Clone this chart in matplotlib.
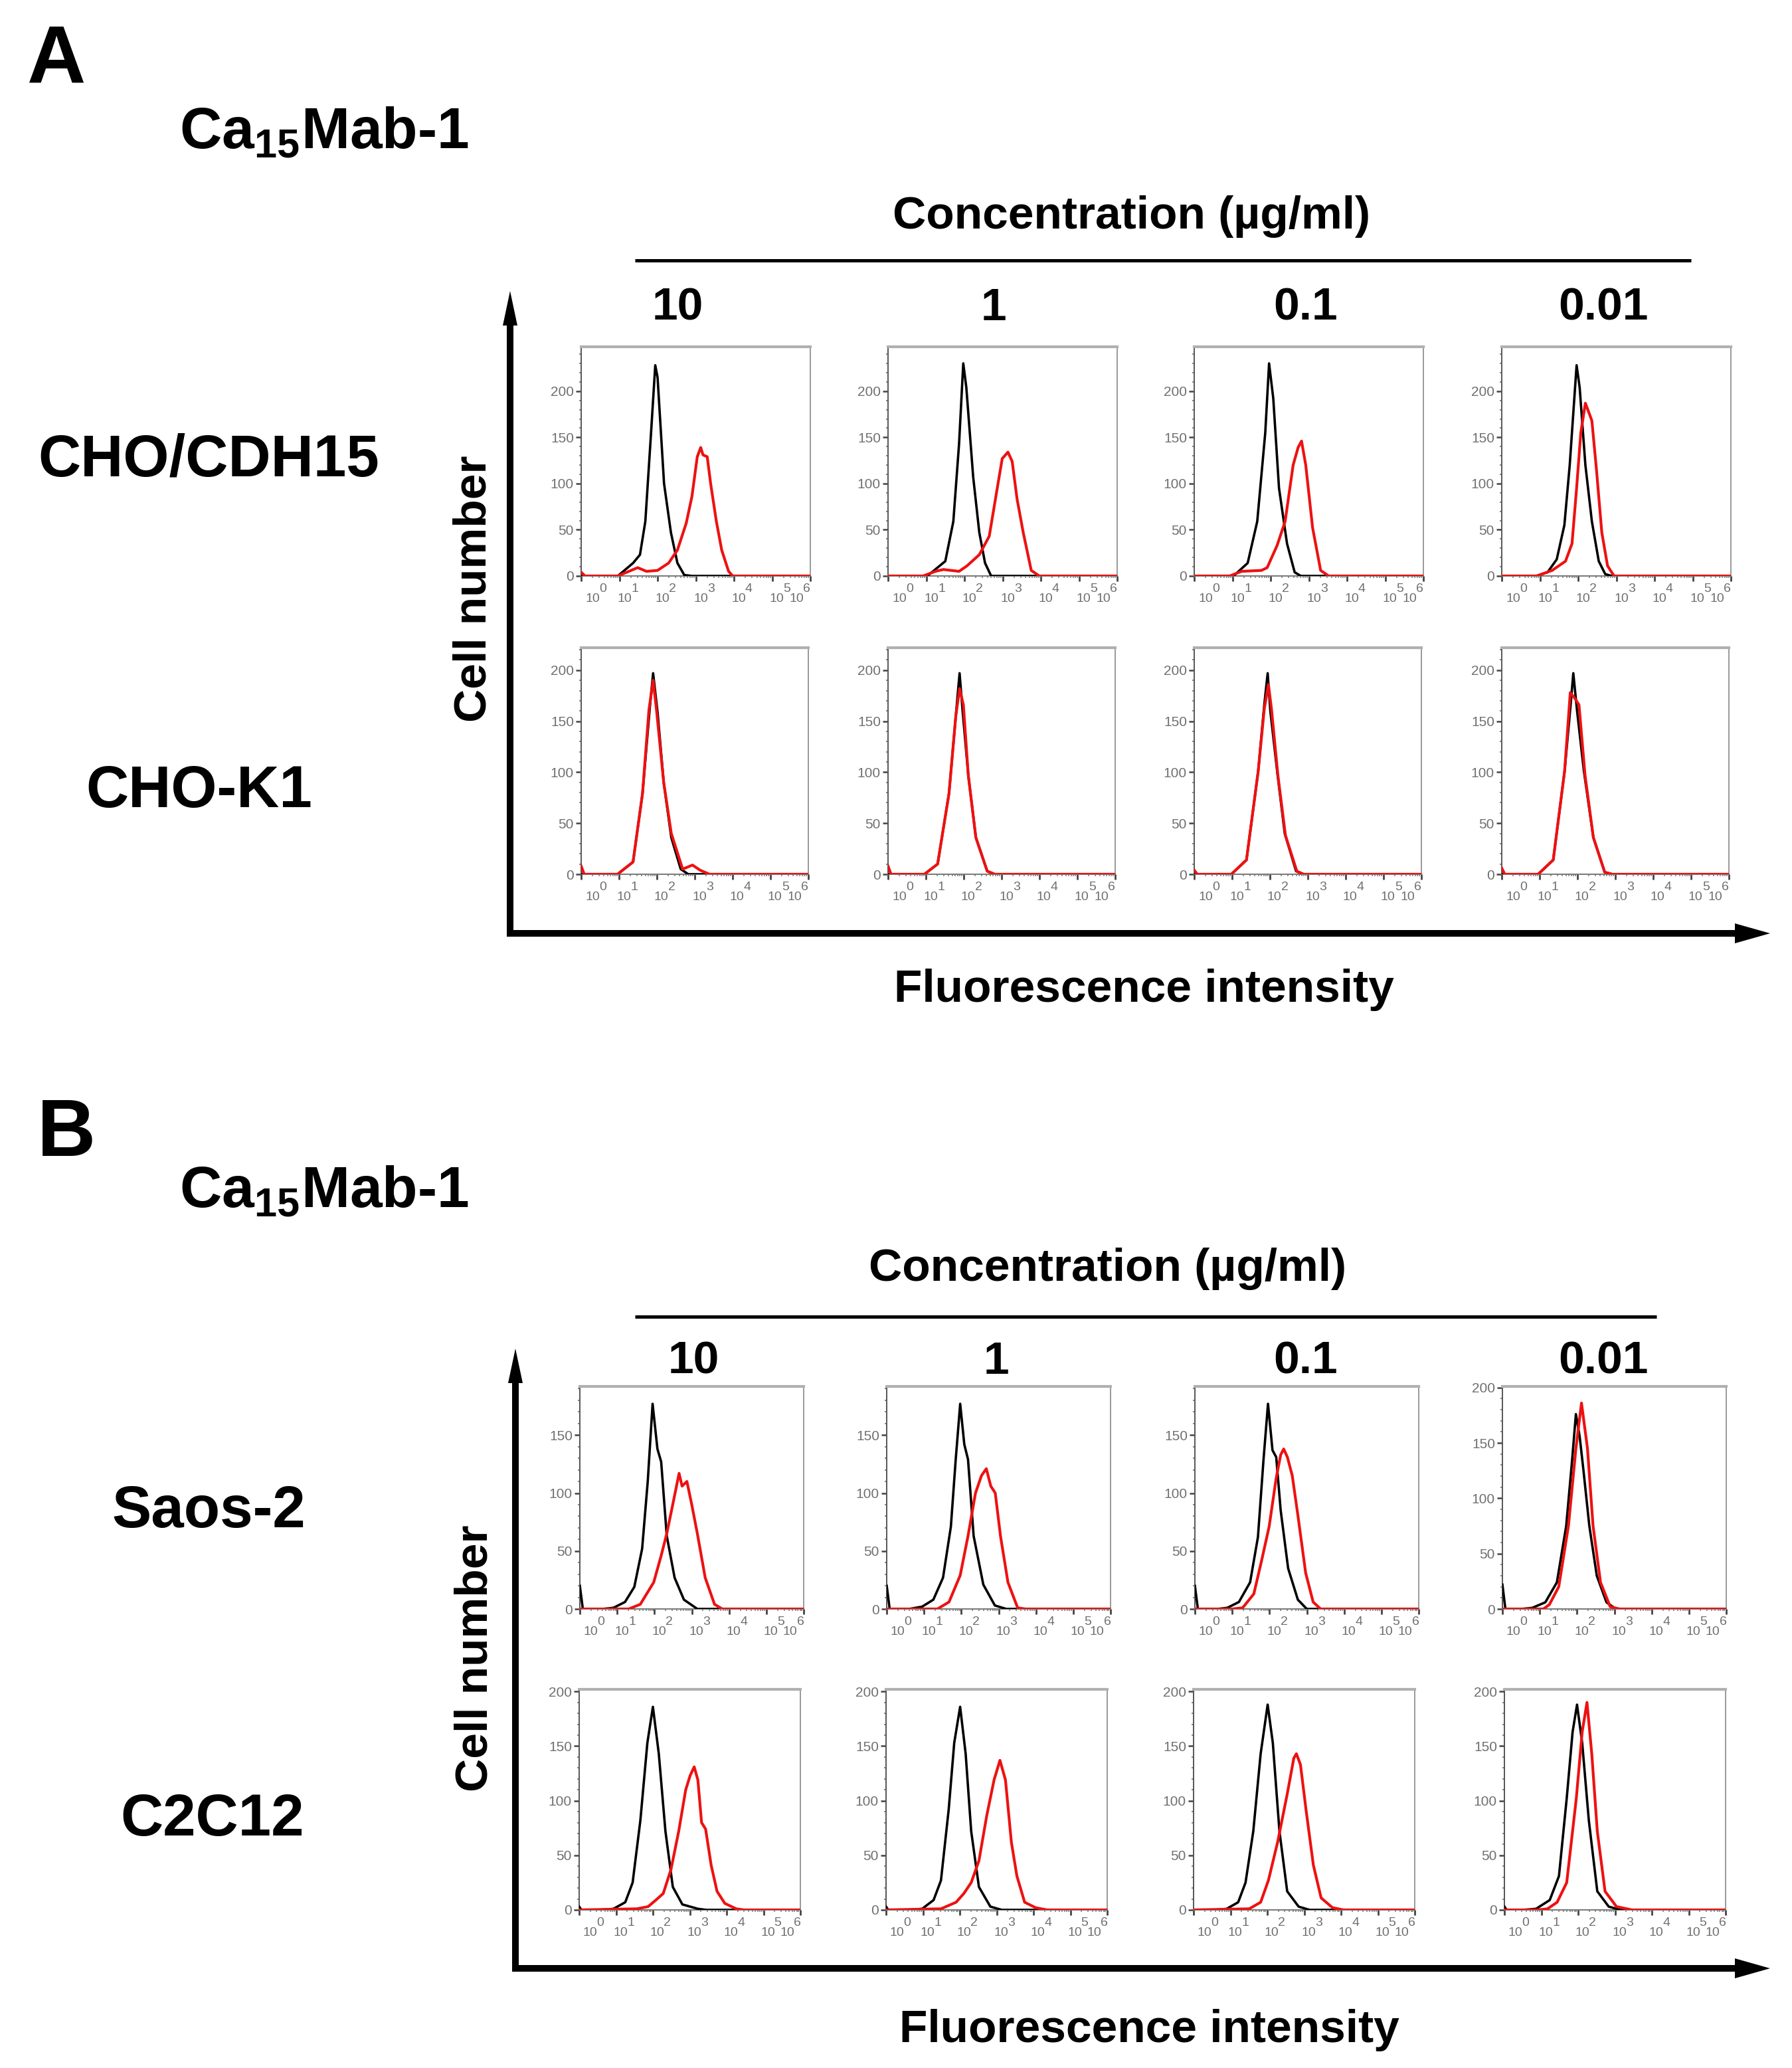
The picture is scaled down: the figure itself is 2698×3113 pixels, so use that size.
import matplotlib
matplotlib.use("Agg")
import matplotlib.pyplot as plt
from matplotlib.patches import FancyArrow
import numpy as np

plt.rcParams['font.family'] = ['Liberation Sans', 'DejaVu Sans']
plt.rcParams['mathtext.fontset'] = 'custom'
plt.rcParams['mathtext.rm'] = 'Liberation Sans'
plt.rcParams['mathtext.bf'] = 'Liberation Sans:bold'

# ---- data: histogram traces ---------------------------------------------
# x is in decades on the display axis (0..6), y is cell count
concentrations = ["10", "1", "0.1", "0.01"]
cells_a = ["CHO/CDH15", "CHO-K1"]
cells_b = ["Saos-2", "C2C12"]
decade_labels = ["0", "1", "2", "3", "4", "5", "6"]

# A, CHO/CDH15
a1_10_ctrl = [(0, 0), (0.96, 0), (1.36, 14), (1.54, 23), (1.68, 59), (1.83, 155), (1.94, 228), (2.0, 215),
              (2.17, 100), (2.35, 47), (2.52, 14), (2.7, 1), (2.9, 0), (6, 0)]
a1_10_mab = [(0, 4), (0.1, 0), (0.96, 0), (1.25, 5), (1.48, 9), (1.71, 5), (2.0, 6), (2.29, 14), (2.52, 28),
             (2.75, 57), (2.9, 86), (3.04, 129), (3.13, 139), (3.19, 131), (3.3, 129), (3.39, 100), (3.54, 59),
             (3.68, 28), (3.86, 5), (3.97, 0), (6, 0)]
a1_1_ctrl = [(0, 0), (1.03, 0), (1.5, 16), (1.71, 59), (1.86, 143), (1.97, 230), (2.05, 204), (2.23, 107),
             (2.39, 47), (2.54, 14), (2.7, 0), (6, 0)]
a1_1_mab = [(0, 0), (0.92, 0), (1.24, 5), (1.45, 7), (1.65, 6), (1.86, 5), (2.07, 11), (2.39, 23), (2.65, 43),
            (2.86, 95), (2.99, 127), (3.14, 134), (3.25, 124), (3.38, 83), (3.54, 47), (3.75, 6), (3.96, 0), (6, 0)]
a1_01_ctrl = [(0, 0), (1.03, 0), (1.4, 14), (1.65, 59), (1.86, 155), (1.96, 230), (2.07, 192), (2.22, 95),
              (2.43, 35), (2.63, 4), (2.79, 0), (6, 0)]
a1_01_mab = [(0, 0), (0.93, 0), (1.24, 5), (1.76, 6), (1.91, 9), (2.17, 33), (2.38, 59), (2.59, 120), (2.72, 139),
             (2.81, 146), (2.92, 120), (3.1, 52), (3.31, 6), (3.52, 0), (6, 0)]
a1_001_ctrl = [(0, 0), (0.91, 0), (1.2, 4), (1.44, 18), (1.64, 55), (1.78, 120), (1.9, 192), (1.96, 228),
               (2.04, 204), (2.19, 120), (2.36, 59), (2.54, 16), (2.71, 2), (2.88, 0), (6, 0)]
a1_001_mab = [(0, 0), (0.91, 0), (1.32, 6), (1.67, 16), (1.84, 35), (1.96, 95), (2.07, 155), (2.19, 187),
              (2.28, 177), (2.36, 168), (2.48, 115), (2.62, 47), (2.77, 11), (2.94, 0), (6, 0)]

# A, CHO-K1
a2_10_ctrl = [(0, 0), (0.96, 0), (1.37, 12), (1.62, 79), (1.82, 166), (1.9, 197), (2.02, 158), (2.18, 90),
              (2.38, 36), (2.63, 5), (2.83, 0), (6, 0)]
a2_10_mab = [(0, 8), (0.08, 0), (0.96, 0), (1.37, 12), (1.62, 79), (1.79, 161), (1.9, 190), (1.99, 161),
             (2.18, 90), (2.38, 40), (2.68, 5), (2.94, 9), (3.14, 4), (3.39, 0), (6, 0)]
a2_1_ctrl = [(0, 0), (0.96, 0), (1.31, 10), (1.61, 79), (1.79, 155), (1.89, 197), (1.97, 160), (2.12, 97),
             (2.32, 36), (2.62, 3), (2.82, 0), (6, 0)]
a2_1_mab = [(0, 8), (0.08, 0), (0.96, 0), (1.31, 10), (1.61, 79), (1.79, 155), (1.89, 182), (1.99, 166),
            (2.12, 97), (2.32, 36), (2.62, 3), (2.82, 0), (6, 0)]
a2_01_ctrl = [(0, 0), (0.98, 0), (1.38, 14), (1.69, 101), (1.85, 166), (1.94, 197), (2.01, 160), (2.19, 101),
              (2.39, 40), (2.69, 3), (2.89, 0), (6, 0)]
a2_01_mab = [(0, 4), (0.08, 0), (0.98, 0), (1.38, 14), (1.69, 101), (1.85, 162), (1.96, 186), (2.04, 162),
             (2.21, 97), (2.41, 38), (2.71, 3), (2.89, 0), (6, 0)]
a2_001_ctrl = [(0, 0), (0.96, 0), (1.36, 14), (1.66, 101), (1.81, 162), (1.89, 197), (1.99, 160), (2.17, 101),
               (2.42, 36), (2.72, 2), (2.92, 0), (6, 0)]
a2_001_mab = [(0, 6), (0.08, 0), (0.96, 0), (1.36, 14), (1.66, 101), (1.81, 178), (1.92, 173), (2.04, 166),
              (2.2, 97), (2.42, 36), (2.72, 2), (2.92, 0), (6, 0)]

# B, Saos-2
b1_10_ctrl = [(0, 20), (0.08, 0), (0.6, 0), (0.9, 1), (1.21, 6), (1.46, 19), (1.67, 52), (1.82, 110),
              (1.95, 177), (2.08, 138), (2.18, 127), (2.33, 63), (2.54, 27), (2.79, 8), (3.15, 0), (6, 0)]
b1_10_mab = [(0, 0), (1.31, 0), (1.62, 4), (1.98, 23), (2.18, 46), (2.33, 65), (2.49, 90), (2.66, 117),
             (2.74, 106), (2.87, 110), (3.0, 90), (3.15, 65), (3.36, 27), (3.61, 4), (3.82, 0), (6, 0)]
b1_1_ctrl = [(0, 20), (0.08, 0), (0.6, 0), (0.95, 2), (1.25, 8), (1.51, 27), (1.72, 71), (1.85, 129),
             (1.97, 177), (2.08, 142), (2.18, 129), (2.33, 63), (2.59, 21), (2.9, 3), (3.21, 0), (6, 0)]
b1_1_mab = [(0, 0), (1.36, 0), (1.67, 6), (1.97, 29), (2.18, 63), (2.38, 100), (2.54, 115), (2.67, 121),
            (2.79, 106), (2.91, 100), (3.05, 63), (3.25, 23), (3.51, 1), (3.72, 0), (6, 0)]
b1_01_ctrl = [(0, 20), (0.08, 0), (0.6, 0), (0.87, 1), (1.18, 6), (1.48, 23), (1.69, 62), (1.84, 129),
              (1.96, 177), (2.08, 137), (2.18, 131), (2.3, 85), (2.5, 35), (2.76, 8), (3.0, 0), (6, 0)]
b1_01_mab = [(0, 0), (1.0, 0), (1.28, 1), (1.58, 13), (1.79, 42), (1.99, 71), (2.18, 113), (2.3, 133),
             (2.38, 138), (2.48, 131), (2.61, 115), (2.76, 81), (2.97, 31), (3.17, 6), (3.37, 0), (6, 0)]
b1_001_ctrl = [(0, 22), (0.08, 0), (0.5, 0), (0.8, 1), (1.15, 6), (1.46, 24), (1.71, 75), (1.87, 135),
               (1.97, 176), (2.07, 156), (2.17, 126), (2.33, 75), (2.53, 30), (2.79, 6), (3.04, 0), (6, 0)]
b1_001_mab = [(0, 0), (1.1, 0), (1.26, 4), (1.51, 20), (1.77, 75), (1.97, 145), (2.12, 186), (2.28, 145),
              (2.43, 75), (2.63, 24), (2.89, 2), (3.14, 0), (6, 0)]

# B, C2C12
b2_10_ctrl = [(0, 3), (0.06, 0), (0.6, 0), (0.93, 1), (1.25, 7), (1.45, 25), (1.66, 82), (1.85, 153),
              (2.0, 186), (2.16, 143), (2.34, 72), (2.54, 21), (2.8, 5), (3.22, 1), (3.45, 0), (6, 0)]
b2_10_mab = [(0, 0), (1.56, 1), (1.87, 3), (2.08, 9), (2.28, 15), (2.49, 37), (2.7, 72), (2.89, 110),
             (3.01, 123), (3.12, 131), (3.22, 119), (3.32, 80), (3.43, 74), (3.58, 41), (3.74, 17), (3.95, 6),
             (4.26, 1), (4.47, 0), (6, 0)]
b2_1_ctrl = [(0, 3), (0.06, 0), (0.6, 0), (0.98, 1), (1.29, 9), (1.49, 27), (1.7, 92), (1.85, 153),
             (2.01, 186), (2.16, 143), (2.31, 72), (2.52, 21), (2.83, 3), (3.14, 0), (6, 0)]
b2_1_mab = [(0, 0), (1.49, 1), (1.9, 7), (2.11, 15), (2.31, 25), (2.52, 45), (2.73, 86), (2.93, 119),
            (3.09, 137), (3.24, 119), (3.4, 62), (3.55, 31), (3.76, 7), (4.06, 2), (4.37, 0), (6, 0)]
b2_01_ctrl = [(0, 0), (0.6, 0), (0.9, 1), (1.21, 7), (1.41, 25), (1.62, 72), (1.82, 143), (2.01, 188),
              (2.15, 153), (2.33, 72), (2.54, 17), (2.85, 3), (3.15, 0), (6, 0)]
b2_01_mab = [(0, 0), (1.51, 1), (1.82, 7), (2.03, 27), (2.28, 62), (2.54, 106), (2.72, 139), (2.79, 143),
             (2.9, 133), (3.05, 92), (3.25, 41), (3.46, 11), (3.77, 2), (4.07, 0), (6, 0)]
b2_001_ctrl = [(0, 3), (0.06, 0), (0.5, 0), (0.86, 1), (1.23, 9), (1.48, 31), (1.69, 102), (1.85, 163),
               (1.97, 188), (2.11, 153), (2.29, 82), (2.52, 17), (2.83, 3), (3.15, 0), (6, 0)]
b2_001_mab = [(0, 0), (0.9, 0), (1.17, 1), (1.43, 7), (1.69, 25), (1.95, 102), (2.11, 163), (2.24, 190),
              (2.37, 143), (2.52, 72), (2.73, 17), (3.04, 3), (3.46, 0), (6, 0)]

rows = [
    [(a1_10_ctrl, a1_10_mab), (a1_1_ctrl, a1_1_mab), (a1_01_ctrl, a1_01_mab), (a1_001_ctrl, a1_001_mab)],
    [(a2_10_ctrl, a2_10_mab), (a2_1_ctrl, a2_1_mab), (a2_01_ctrl, a2_01_mab), (a2_001_ctrl, a2_001_mab)],
    [(b1_10_ctrl, b1_10_mab), (b1_1_ctrl, b1_1_mab), (b1_01_ctrl, b1_01_mab), (b1_001_ctrl, b1_001_mab)],
    [(b2_10_ctrl, b2_10_mab), (b2_1_ctrl, b2_1_mab), (b2_01_ctrl, b2_01_mab), (b2_001_ctrl, b2_001_mab)],
]
row_ymax = [[248] * 4, [222] * 4, [192, 192, 192, 201], [202] * 4]
row_yticks = [[[0, 50, 100, 150, 200]] * 4, [[0, 50, 100, 150, 200]] * 4,
              [[0, 50, 100, 150]] * 3 + [[0, 50, 100, 150, 200]], [[0, 50, 100, 150, 200]] * 4]

# ---- layout (pixels of the 2698 x 3113 canvas) -------------------------
W, H = 2698, 3113
fig = plt.figure(figsize=(W / 100, H / 100), dpi=100)

panel_lefts = [[875, 1337, 1798, 2261], [875, 1337, 1798, 2261],
               [873, 1335, 1799, 2262], [872, 1334, 1797, 2265]]
panel_width = [345, 342, 337, 333]
panel_top = [522, 975, 2087, 2543]
panel_bottom = [867, 1316, 2422, 2875]

# decade label positions on the display scale (the cytometer software puts them off the ticks)
label_pos = [0.30, 1.13, 2.12, 3.13, 4.12, 5.12, 5.64]

ov = fig.add_axes([0, 0, 1, 1], zorder=0)
ov.set_xlim(0, W)
ov.set_ylim(H, 0)
ov.axis('off')

tick_grey = '#707070'


def rect(left, top, right, bottom):
    return [left / W, 1 - bottom / H, (right - left) / W, (bottom - top) / H]


for r, row in enumerate(rows):
    for c, (ctrl, mab) in enumerate(row):
        left = panel_lefts[r][c]
        ax = fig.add_axes(rect(left, panel_top[r], left + panel_width[r], panel_bottom[r]), zorder=2)
        cx, cy = zip(*ctrl)
        mx, my = zip(*mab)
        ax.plot(cx, cy, color='black', lw=2.6, solid_joinstyle='round', zorder=3)
        ax.plot(mx, my, color='#ee1111', lw=3.0, solid_joinstyle='round', zorder=4)
        ax.set_xlim(0, 6)
        ax.set_ylim(0, row_ymax[r][c])

        ax.spines['top'].set_color('#b0b0b0')
        ax.spines['top'].set_linewidth(3.0)
        ax.spines['right'].set_color('#999999')
        ax.spines['right'].set_linewidth(1.4)
        ax.spines['left'].set_color('#555555')
        ax.spines['left'].set_linewidth(1.4)
        ax.spines['bottom'].set_color('#777777')
        ax.spines['bottom'].set_linewidth(1.4)

        ax.set_yticks(row_yticks[r][c])
        ax.set_yticks(np.arange(0, row_ymax[r][c], 10), minor=True)
        ax.set_xticks(range(7))
        ax.set_xticks([k + np.log10(m) for k in range(6) for m in range(2, 10)], minor=True)
        ax.set_xticklabels([])
        ax.tick_params(axis='y', which='major', length=6, width=1.8, color='#444444',
                       labelsize=15, labelcolor=tick_grey, pad=2)
        ax.tick_params(axis='y', which='minor', length=2.5, width=1.1, color='#666666')
        ax.tick_params(axis='x', which='major', length=6, width=2.0, color='#444444')
        ax.tick_params(axis='x', which='minor', length=2.5, width=1.1, color='#777777')

        for pos, exp in zip(label_pos, decade_labels):
            ax.annotate('10', xy=(pos, 0), xycoords=('data', 'axes fraction'),
                        xytext=(0, -25), textcoords='offset points',
                        ha='center', va='center', fontsize=14, color=tick_grey,
                        annotation_clip=False)
            ax.annotate(exp, xy=(pos + 0.27, 0), xycoords=('data', 'axes fraction'),
                        xytext=(0, -14), textcoords='offset points',
                        ha='center', va='center', fontsize=14, color=tick_grey,
                        annotation_clip=False)

# ---- labels, bars and arrows --------------------------------------------
big = dict(fontweight='bold', color='black')
ov.text(85, 92, 'A', fontsize=88, ha='center', va='center', **big)
ov.text(100, 1708, 'B', fontsize=88, ha='center', va='center', **big)
for y in [200, 1794]:
    ov.text(270, y, r'Ca$_{\mathbf{15}}$Mab-1', fontsize=63, ha='left', va='center', **big)

ov.text(1704, 326, 'Concentration (µg/ml)', fontsize=50, ha='center', va='center', **big)
ov.text(1668, 1910, 'Concentration (µg/ml)', fontsize=50, ha='center', va='center', **big)
ov.plot([956, 2546], [392, 392], color='black', lw=3.6, solid_capstyle='butt')
ov.plot([956, 2494], [1982, 1982], color='black', lw=3.6, solid_capstyle='butt')

for label, x in zip(concentrations, [1020, 1496, 1966, 2414]):
    ov.text(x, 464, label, fontsize=50, ha='center', va='center', **big)
for label, x in zip(concentrations, [1044, 1500, 1966, 2414]):
    ov.text(x, 2050, label, fontsize=50, ha='center', va='center', **big)

for label, (x, y) in zip(cells_a, [(314, 694), (300, 1192)]):
    ov.text(x, y, label, fontsize=64, ha='center', va='center', **big)
for label, (x, y) in zip(cells_b, [(314, 2276), (320, 2740)]):
    ov.text(x, y, label, fontsize=64, ha='center', va='center', **big)

ov.text(714, 886, 'Cell number', fontsize=50, rotation=90, ha='center', va='center', **big)
ov.text(716, 2496, 'Cell number', fontsize=50, rotation=90, ha='center', va='center', **big)
ov.text(1722, 1490, 'Fluorescence intensity', fontsize=50, ha='center', va='center', **big)
ov.text(1730, 3056, 'Fluorescence intensity', fontsize=50, ha='center', va='center', **big)

for x0, y0, y_tip, x_tip in [(768, 1405, 438, 2665), (776, 2963, 2030, 2665)]:
    ov.add_patch(FancyArrow(x0, y0 + 5, 0, y_tip - y0 - 5, width=10, head_width=22, head_length=52,
                            length_includes_head=True, color='black', lw=0))
    ov.add_patch(FancyArrow(x0 - 5, y0, x_tip - x0 + 5, 0, width=10, head_width=30, head_length=53,
                            length_includes_head=True, color='black', lw=0))

fig.savefig('out.png', dpi=100, facecolor='white')
